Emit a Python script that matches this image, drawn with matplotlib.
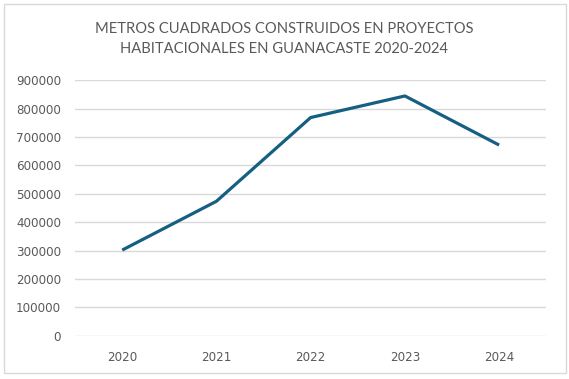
import matplotlib.pyplot as plt
from matplotlib.patches import Rectangle

# Datos del gráfico
years = ["2020", "2021", "2022", "2023", "2024"]
square_meters = [302000, 474000, 769000, 845000, 672000]
y_ticks = [0, 100000, 200000, 300000, 400000, 500000, 600000, 700000, 800000, 900000]
title_text = "METROS CUADRADOS CONSTRUIDOS EN PROYECTOS\nHABITACIONALES EN GUANACASTE 2020-2024"

text_color = "#595959"
line_color = "#156082"
grid_color = "#d9d9d9"

fig = plt.figure(figsize=(5.69, 3.79), dpi=100)
ax = fig.add_axes([0.132, 0.114, 0.828, 0.674])

# Marco gris alrededor del gráfico
fig.patches.append(Rectangle((4 / 569, 6 / 379), 562 / 569, 369 / 379,
                             transform=fig.transFigure, fill=False,
                             edgecolor=grid_color, linewidth=1))

x = range(len(years))
ax.plot(x, square_meters, color=line_color, linewidth=2.3, solid_capstyle="butt")

ax.set_xlim(-0.5, len(years) - 0.5)
ax.set_ylim(0, 900000)
ax.set_xticks(list(x))
ax.set_xticklabels(years)
ax.set_yticks(y_ticks)
ax.set_yticklabels([str(v) for v in y_ticks])

ax.grid(axis="y", color=grid_color, linewidth=1)
ax.set_axisbelow(True)
for side in ["top", "right", "left", "bottom"]:
    ax.spines[side].set_visible(False)
ax.tick_params(axis="both", length=0, labelsize=8.6, labelcolor=text_color)
ax.tick_params(axis="x", pad=11)
ax.tick_params(axis="y", pad=10)
for lab in ax.get_xticklabels() + ax.get_yticklabels():
    lab.set_family("DejaVu Sans")

fig.text(0.5, 0.897, title_text, ha="center", va="center", fontsize=10.6,
         color=text_color, family="Lato", linespacing=1.55)

fig.savefig("out.png", dpi=100)
